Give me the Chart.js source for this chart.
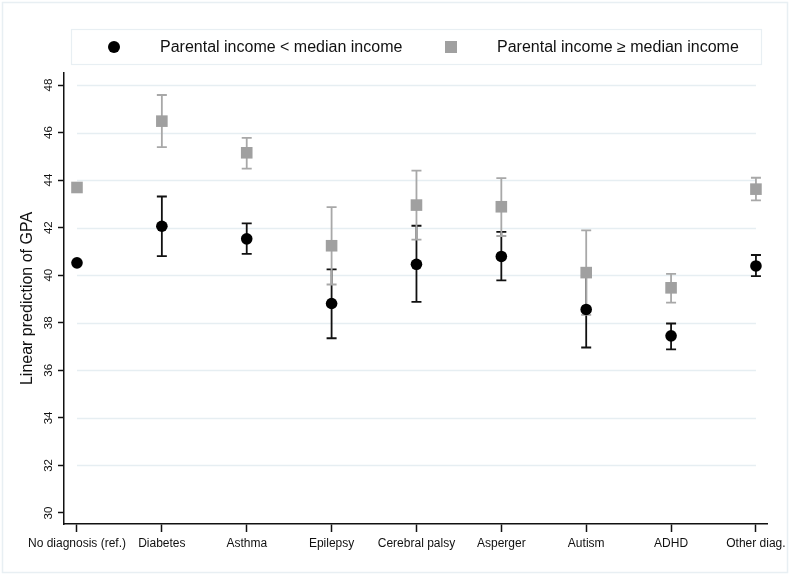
<!DOCTYPE html>
<html>
<head>
<meta charset="utf-8">
<script src="https://cdn.jsdelivr.net/npm/chart.js@4.4.1/dist/chart.umd.min.js"></script>
<style>
  html, body { margin: 0; padding: 0; background: #fff; }
  #wrap { width: 790px; height: 575px; position: relative; }
</style>
</head>
<body>
<div id="wrap"><canvas id="chart"></canvas></div>
<script>
const categories = ['No diagnosis (ref.)', 'Diabetes', 'Asthma', 'Epilepsy', 'Cerebral palsy', 'Asperger', 'Autism', 'ADHD', 'Other diag.'];
const yTicks = [30, 32, 34, 36, 38, 40, 42, 44, 46, 48];

// parental income < median
const lowMean  = [40.52, 42.06, 41.53, 38.81, 40.46, 40.79, 38.56, 37.45, 40.39];
const lowLower = [null, 40.80, 40.90, 37.35, 38.88, 39.78, 36.96, 36.88, 39.96];
const lowUpper = [null, 43.31, 42.18, 40.25, 42.08, 41.82, 40.16, 37.97, 40.85];

// parental income >= median
const highMean  = [43.69, 46.48, 45.15, 41.24, 42.95, 42.88, 40.11, 39.47, 43.62];
const highLower = [null, 45.39, 44.48, 39.61, 41.50, 41.65, 38.33, 38.85, 43.15];
const highUpper = [null, 47.58, 45.78, 42.86, 44.40, 44.08, 41.89, 40.06, 44.10];

const BLACK = '#000000';
const GRAY = '#a0a0a0';
const GRAY_BAR = '#a8a8a8';
const FONT = '"Liberation Sans", Arial, sans-serif';

const errorBars = [
  { lower: lowLower, upper: lowUpper, color: '#111111' },
  { lower: highLower, upper: highUpper, color: GRAY_BAR }
];

const toPoints = vals => vals.map((v, i) => ({ x: i, y: v }));

// horizontal grid only between first and last category, no line at the bottom tick
const gridPlugin = {
  id: 'stataGrid',
  beforeDatasetsDraw(chart) {
    const { ctx, scales: { x, y } } = chart;
    const x0 = x.getPixelForValue(0);
    const x1 = x.getPixelForValue(categories.length - 1);
    ctx.save();
    ctx.strokeStyle = '#e6eef2';
    ctx.lineWidth = 1.5;
    yTicks.slice(1).forEach(t => {
      const py = Math.round(y.getPixelForValue(t)) + 0.5;
      ctx.beginPath();
      ctx.moveTo(x0, py);
      ctx.lineTo(x1, py);
      ctx.stroke();
    });
    ctx.restore();
  }
};

const errorBarPlugin = {
  id: 'errorBars',
  beforeDatasetsDraw(chart) {
    const { ctx, scales: { x, y } } = chart;
    ctx.save();
    ctx.lineWidth = 1.8;
    errorBars.forEach(bar => {
      ctx.strokeStyle = bar.color;
      bar.lower.forEach((lo, i) => {
        const hi = bar.upper[i];
        if (lo == null || hi == null) return;
        const px = x.getPixelForValue(i);
        const pLo = y.getPixelForValue(lo);
        const pHi = y.getPixelForValue(hi);
        ctx.beginPath();
        ctx.moveTo(px, pLo);
        ctx.lineTo(px, pHi);
        ctx.moveTo(px - 5, pLo);
        ctx.lineTo(px + 5, pLo);
        ctx.moveTo(px - 5, pHi);
        ctx.lineTo(px + 5, pHi);
        ctx.stroke();
      });
    });
    ctx.restore();
  }
};

// vertical y tick labels, legend box and outer frame
const decorPlugin = {
  id: 'decor',
  afterDraw(chart) {
    const { ctx, scales: { y } } = chart;
    ctx.save();

    ctx.strokeStyle = '#e8eff3';
    ctx.lineWidth = 1.5;
    ctx.strokeRect(2.5, 2.5, 785, 570);

    ctx.fillStyle = '#111';
    ctx.font = '11.5px ' + FONT;
    ctx.textAlign = 'center';
    ctx.textBaseline = 'alphabetic';
    yTicks.forEach(t => {
      ctx.save();
      ctx.translate(y.right - 12.5, y.getPixelForValue(t));
      ctx.rotate(-Math.PI / 2);
      ctx.fillText(String(t), 0, 0);
      ctx.restore();
    });

    ctx.strokeStyle = '#e8eff3';
    ctx.lineWidth = 1.2;
    ctx.strokeRect(71.5, 29.5, 690, 35);

    const ds = chart.data.datasets;
    ctx.fillStyle = BLACK;
    ctx.beginPath();
    ctx.arc(114, 47, 6, 0, Math.PI * 2);
    ctx.fill();
    ctx.fillStyle = GRAY;
    ctx.fillRect(445, 41, 12, 12);

    ctx.fillStyle = '#111';
    ctx.font = '16px ' + FONT;
    ctx.textAlign = 'left';
    ctx.textBaseline = 'middle';
    ctx.fillText(ds[0].label, 160, 48);
    ctx.fillText(ds[1].label, 497, 48);
    ctx.restore();
  }
};

new Chart(document.getElementById('chart'), {
  type: 'scatter',
  data: {
    datasets: [
      {
        label: 'Parental income < median income',
        data: toPoints(lowMean),
        pointStyle: 'circle',
        pointRadius: 5.8,
        pointHoverRadius: 5.8,
        backgroundColor: BLACK,
        borderColor: BLACK,
        borderWidth: 0
      },
      {
        label: 'Parental income \u2265 median income',
        data: toPoints(highMean),
        pointStyle: 'rect',
        pointRadius: 8.2,
        pointHoverRadius: 8.2,
        backgroundColor: GRAY,
        borderColor: GRAY,
        borderWidth: 0
      }
    ]
  },
  options: {
    responsive: true,
    maintainAspectRatio: false,
    animation: false,
    layout: { padding: { left: 0, top: 73, right: 22, bottom: 0 } },
    plugins: {
      legend: { display: false },
      tooltip: { enabled: false }
    },
    scales: {
      x: {
        type: 'linear',
        min: -0.153,
        max: 8.141,
        afterBuildTicks: scale => { scale.ticks = categories.map((c, i) => ({ value: i })); },
        afterFit: scale => { scale.height = 51; },
        ticks: {
          autoSkip: false,
          maxRotation: 0,
          padding: 4,
          color: '#111',
          font: { family: FONT, size: 12 },
          callback: v => categories[v]
        },
        grid: { drawOnChartArea: false, drawTicks: true, tickLength: 8, tickColor: '#111', tickWidth: 1.5 },
        border: { display: true, color: '#111', width: 1.5 }
      },
      y: {
        min: 29.537,
        max: 48.505,
        afterBuildTicks: scale => { scale.ticks = yTicks.map(v => ({ value: v })); },
        afterFit: scale => { scale.width = 64; },
        ticks: { display: false },
        grid: { drawOnChartArea: false, drawTicks: true, tickLength: 6, tickColor: '#111', tickWidth: 1.5 },
        border: { display: true, color: '#111', width: 1.5 },
        title: {
          display: true,
          text: 'Linear prediction of GPA',
          color: '#111',
          font: { family: FONT, size: 16 },
          padding: { top: 18, bottom: 0 }
        }
      }
    }
  },
  plugins: [gridPlugin, errorBarPlugin, decorPlugin]
});
</script>
</body>
</html>
